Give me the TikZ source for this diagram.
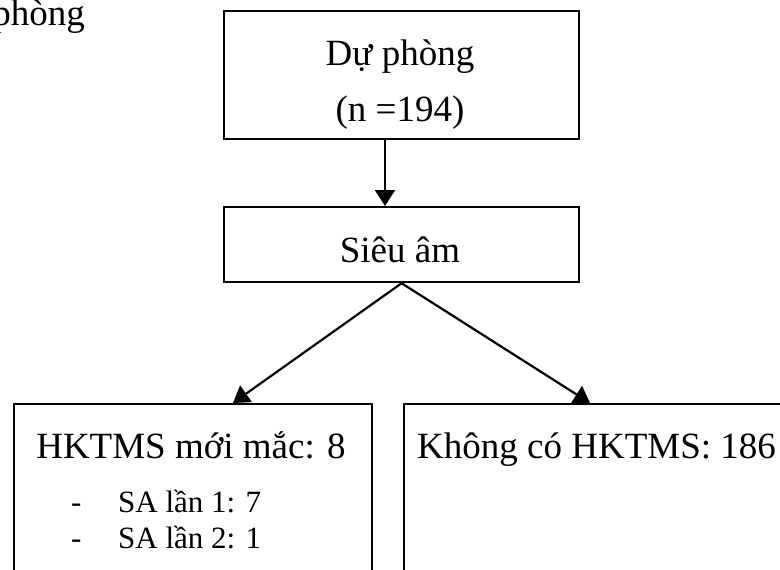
\documentclass[tikz,border=0pt]{standalone}
\usepackage{fontspec}
\setmainfont{Liberation Serif}
\usetikzlibrary{arrows.meta}
\begin{document}
\begin{tikzpicture}[x=1pt,y=-1pt,
  boxst/.style={draw=black,line width=2.2pt,inner sep=0pt,anchor=north west},
  big/.style={inner sep=0pt,font=\fontsize{37}{44}\selectfont},
  small/.style={inner sep=0pt,font=\fontsize{31}{37}\selectfont},
  arr/.style={line width=2.2pt,-{Triangle[length=16pt,width=20pt]}}]
\useasboundingbox (0,0) rectangle (780,570);
% boxes
\node[boxst,minimum width=355pt,minimum height=128pt] (top) at (223,10) {};
\node[boxst,minimum width=355pt,minimum height=75pt] (sa) at (223,206) {};
\node[boxst,minimum width=358pt,minimum height=250pt] (lb) at (13,403) {};
\node[boxst,minimum width=420pt,minimum height=250pt] (rb) at (403,403) {};
% texts
\node[big,anchor=base east] (cut) at (85,25) {phòng};
\node[big,anchor=base] (t1) at (400,65) {Dự phòng};
\node[big,anchor=base] (t2) at (400,121) {(n =194)};
\node[big,anchor=base] (t3) at (400,262) {Siêu âm};
\node[big,anchor=base] (t4) at (191,458) {HKTMS mới mắc: 8};
\node[big,anchor=base west] (t5) at (417,458) {Không có HKTMS: 186};
\node[small,anchor=base west] (d1) at (71,512) {-};
\node[small,anchor=base west] (s1) at (118,512) {SA lần 1: 7};
\node[small,anchor=base west] (d2) at (71,548) {-};
\node[small,anchor=base west] (s2) at (118,548) {SA lần 2: 1};
% connectors
\coordinate (lt) at (233,403);
\coordinate (rt) at (590,403);
\draw[arr] (top.south -| 385,0) -- (sa.north -| 385,0);
\draw[arr] (sa.south) -- (lt);
\draw[arr] (sa.south) -- (rt);
\end{tikzpicture}
\end{document}
